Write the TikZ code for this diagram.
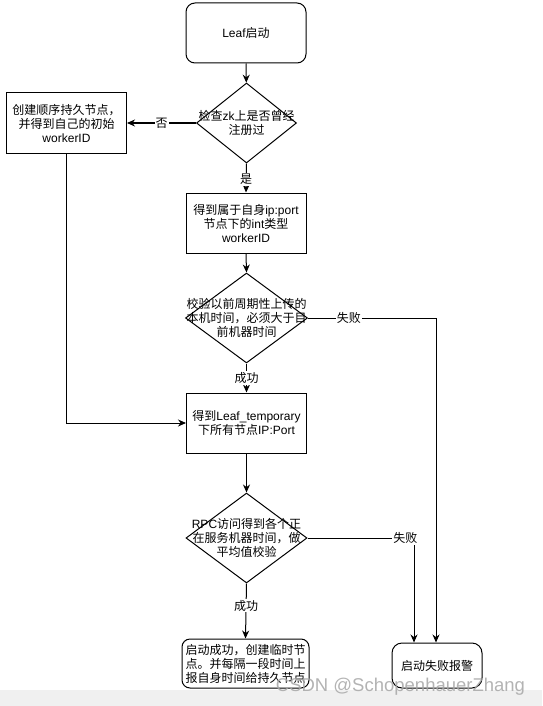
\documentclass[tikz,border=0pt]{standalone}
\usepackage{fontspec}
\setmainfont{Noto Sans CJK SC}
\newfontfamily\lat{Liberation Sans}
\usetikzlibrary{shapes.geometric,arrows.meta}
\tikzset{
  every node/.style={font=\fontsize{12}{14}\selectfont},
  box/.style={draw, line width=1pt, minimum width=120pt, minimum height=60pt, inner sep=0pt, align=center},
  rbox/.style={box, rounded corners=9pt},
  dia/.style={draw, line width=1pt, diamond, inner sep=0pt},
  txt/.style={align=center, inner sep=0pt},
  lbl/.style={fill=white, inner sep=1pt},
  conn/.style={line width=1pt, -{Stealth[length=8pt,width=7pt]}},
}
\begin{document}
\begin{tikzpicture}[x=1pt,y=-1pt]
\useasboundingbox (0,0) rectangle (542,706);
\fill[black!6] (0,690) rectangle (542,706);

\node[rbox] (start) at (246,33) {{\lat Leaf}启动};
\node[dia, minimum width=100pt, minimum height=80pt] (d1) at (246.5,123) {};
\node[txt] (d1t) at (246.5,123) {检查{\lat zk}上是否曾经\\注册过};
\node[box] (lbox) at (66.5,123) {创建顺序持久节点，\\并得到自己的初始\\{\lat workerID}};
\node[box] (b2) at (246,223) {得到属于自身{\lat ip:port}\\节点下的{\lat int}类型\\{\lat workerID}};
\node[dia, minimum width=122pt, minimum height=90pt] (d2) at (246.5,318) {};
\node[txt] (d2t) at (246.5,318) {校验以前周期性上传的\\本机时间，必须大于目\\前机器时间};
\node[box] (b3) at (246.5,423) {得到{\lat Leaf\_temporary}\\下所有节点{\lat IP:Port}};
\node[dia, minimum width=121pt, minimum height=90pt] (d3) at (246.5,538) {};
\node[txt] (d3t) at (246.5,538) {{\lat RPC}访问得到各个正\\在服务机器时间，做\\平均值校验};
\node[box, rounded corners=8pt, minimum width=127pt, minimum height=49pt] (ok) at (245.5,663.5) {启动成功，创建临时节\\点。并每隔一段时间上\\报自身时间给持久节点};
\node[box, rounded corners=10pt, minimum width=90pt, minimum height=45pt] (fail) at (437,665.5) {启动失败报警};

\draw[conn] (start) -- (d1);
\draw[conn] (d1.west) -- node[lbl] {否} (lbox.east);
\draw[conn] (d1.south) -- node[lbl, pos=0.55] {是} (b2.north);
\draw[conn] (b2.south) -- (d2.north);
\draw[conn] (d2.south) -- node[lbl, pos=0.5] {成功} (b3.north);
\draw[conn] (lbox.south) |- (b3.west);
\draw[conn] (b3.south) -- (d3.north);
\draw[conn] (d3.south) -- node[lbl, pos=0.4] {成功} (ok.north);
\draw[conn] (d2.east) -| node[lbl, pos=0.16] {失败} ([xshift=-1pt]fail.north);
\draw[conn] (d3.east) -| node[lbl, pos=0.46] {失败} ([xshift=-23pt]fail.north);

\node[text=black!35, opacity=0.85, font=\lat\fontsize{18.5}{20}\selectfont, inner sep=0pt] (wm) at (400.5,687) {CSDN @SchopenhauerZhang};
\end{tikzpicture}
\end{document}
